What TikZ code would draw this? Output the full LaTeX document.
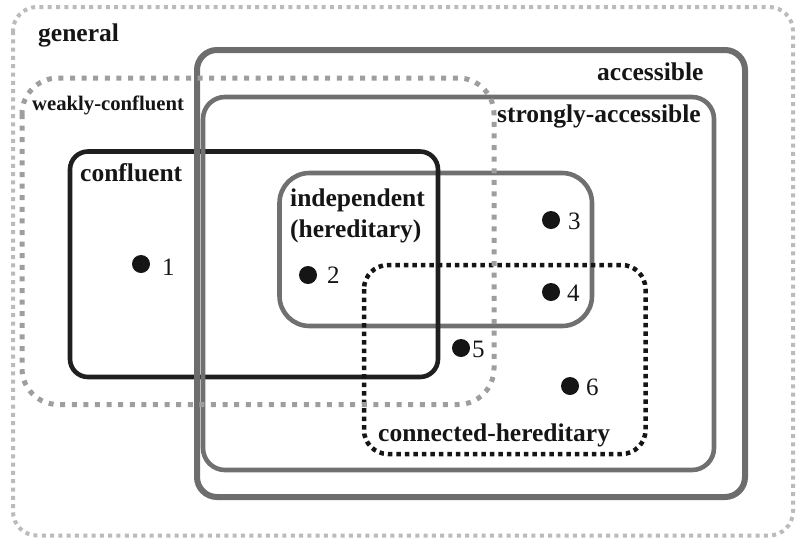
\documentclass[tikz,border=0pt]{standalone}
\usepackage{fontspec}
\setmainfont{Liberation Serif}
\definecolor{genc}{HTML}{BBBBBB}
\definecolor{weakc}{HTML}{9E9E9E}
\definecolor{accc}{HTML}{6D6D6D}
\definecolor{strc}{HTML}{707070}
\definecolor{conc}{HTML}{1F1F1F}
\definecolor{indc}{HTML}{707070}
\definecolor{chc}{HTML}{151515}
\definecolor{txtc}{HTML}{151515}
\tikzset{
  setbox/.style={line cap=butt},
  genbox/.style={setbox, draw=genc, line width=4pt, dash pattern=on 4pt off 4.3pt, rounded corners=24pt},
  weakbox/.style={setbox, draw=weakc, line width=5pt, dash pattern=on 5pt off 6.6pt, rounded corners=36pt},
  accbox/.style={setbox, draw=accc, line width=6pt, rounded corners=20pt},
  strbox/.style={setbox, draw=strc, line width=4.6pt, rounded corners=22pt},
  conbox/.style={setbox, draw=conc, line width=4.6pt, rounded corners=18pt},
  indbox/.style={setbox, draw=indc, line width=4.6pt, rounded corners=30pt},
  chbox/.style={setbox, draw=chc, line width=4.5pt, dash pattern=on 4.5pt off 4pt, rounded corners=24pt},
  lab/.style={font=\fontsize{25.5}{30}\selectfont\bfseries, inner sep=0pt, anchor=base west, text=txtc},
  smalllab/.style={font=\fontsize{20.7}{25}\selectfont\bfseries, inner sep=0pt, anchor=base west, text=txtc},
  num/.style={font=\fontsize{25}{30}\selectfont, inner sep=0pt, anchor=base west, text=txtc},
  dotpt/.style={circle, fill=txtc, inner sep=0pt, minimum size=18pt},
}
\begin{document}
\begin{tikzpicture}[x=1pt,y=-1pt]
\useasboundingbox (0,0) rectangle (797,539);
% sets
\draw[indbox] (279.5,173) rectangle (592,326);
\draw[conbox] (70,151.5) rectangle (438,377);
\draw[accbox] (197,50) rectangle (745,497);
\draw[strbox] (203,97) rectangle (714,470);
\draw[chbox] (364,265) rectangle (645.5,454);
\draw[weakbox] (22,78) rectangle (494,404.5);
\draw[genbox] (13,7) rectangle (793,535.5);
% labels
\node[lab] (lgen) at (38,41) {general};
\node[lab] (lacc) at (597,80) {accessible};
\node[smalllab] (lweak) at (32,110) {weakly-confluent};
\node[lab] (lstr) at (497,122) {strongly-accessible};
\node[lab] (lcon) at (80,181) {confluent};
\node[lab] (lind) at (290,206) {independent};
\node[lab] (lher) at (290,237) {(hereditary)};
\node[lab] (lch) at (378,441) {connected-hereditary};
% points
\node[dotpt] (d1) at (141,264) {};
\node[num] (n1) at (162,275) {1};
\node[dotpt] (d2) at (308,275) {};
\node[num] (n2) at (327,283) {2};
\node[dotpt] (d3) at (551,220) {};
\node[num] (n3) at (568,229) {3};
\node[dotpt] (d4) at (551,292) {};
\node[num] (n4) at (567,301) {4};
\node[dotpt] (d5) at (461,348) {};
\node[num] (n5) at (472,357) {5};
\node[dotpt] (d6) at (570,386) {};
\node[num] (n6) at (586,395) {6};
\end{tikzpicture}
\end{document}
